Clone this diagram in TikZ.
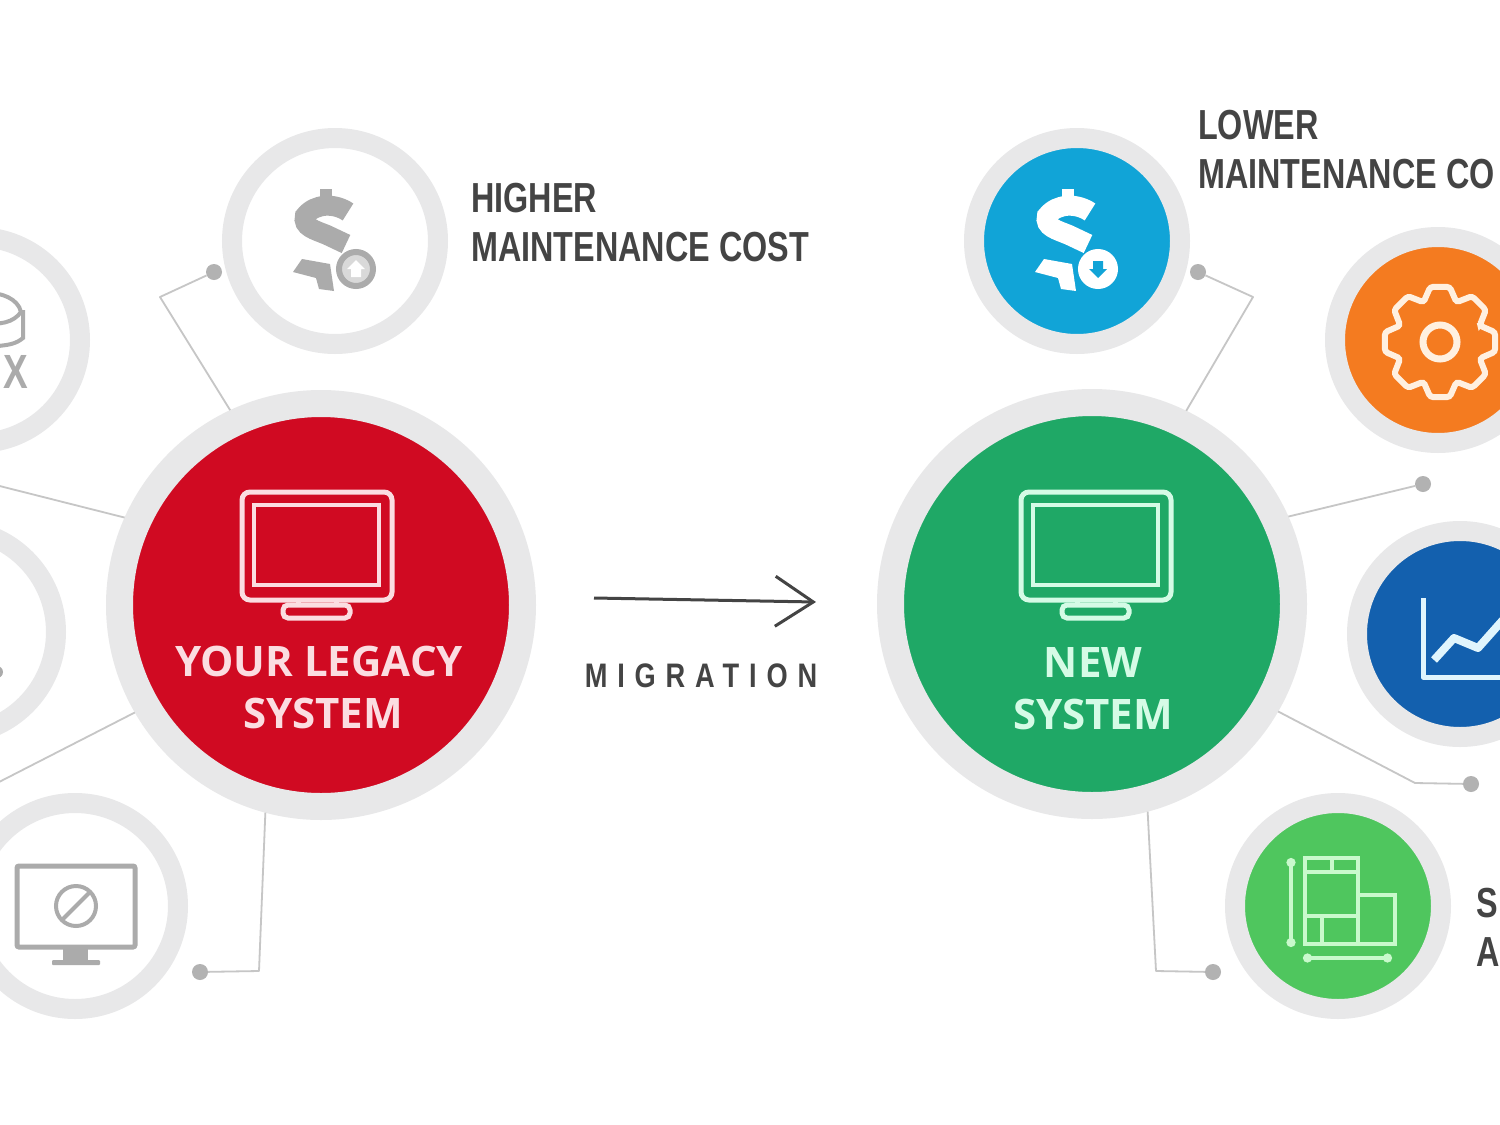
\documentclass[tikz,border=0pt]{standalone}
\usepackage{fontspec}
\usepackage{xcolor}
\usetikzlibrary{arrows.meta, positioning}
\setmainfont{Open Sans}
\newfontfamily\labelfont[FakeStretch=0.77]{Liberation Sans}
\newfontfamily\migfont[FakeStretch=0.8,LetterSpace=29]{Liberation Sans}
\definecolor{colorRing}{HTML}{E8E8E9}
\definecolor{colorLine}{HTML}{C6C6C6}
\definecolor{colorDot}{HTML}{B2B2B2}
\definecolor{colorGrey}{HTML}{ABABAB}
\definecolor{colorText}{HTML}{444444}
\definecolor{colorRed}{HTML}{D00A22}
\definecolor{colorGreen}{HTML}{1FA866}
\definecolor{colorBlue}{HTML}{11A4D7}
\definecolor{colorOrange}{HTML}{F47B20}
\definecolor{colorNavy}{HTML}{1360AE}
\definecolor{colorLime}{HTML}{4FC65E}
\definecolor{colorPink}{HTML}{FBDDE1}
\definecolor{colorMint}{HTML}{D5FBE6}
\definecolor{colorPale}{HTML}{C9F9CC}
\tikzset{
  big/.style={circle, inner sep=0pt, minimum size=403pt, draw=colorRing, line width=27pt, fill=#1},
  small/.style={circle, inner sep=0pt, minimum size=206pt, draw=colorRing, line width=20pt, fill=#1},
  link/.style={draw=colorLine, line width=1.8pt, line join=round},
  dot/.style={circle, inner sep=0pt, minimum size=16pt, fill=colorDot},
  sideLabel/.style={anchor=north west, inner sep=0pt, align=left, text=colorText, font=\labelfont\bfseries\fontsize{42}{49}\selectfont},
  bigLabel/.style={align=center, inner sep=0pt, font=\bfseries\fontsize{42}{52}\selectfont}
}
\newcommand{\drawMonitor}[2]{
  \begin{scope}[shift={#1}, draw=#2, line width=5pt]
    \draw[rounded corners=8pt] (-75,-113) rectangle (75,-5);
    \draw[line width=4pt] (-63,-100) rectangle (62,-20);
    \draw (-19,-5) -- (-19,0) (19,-5) -- (19,0);
    \draw[rounded corners=5pt] (-34,0) rectangle (33,13);
  \end{scope}
}
\newcommand{\drawDollar}[5]{
  \begin{scope}[shift={#1}]
    \draw[#2, line width=12pt] (-9,-52) -- (-9,-40);
    \draw[#2, line width=20pt] (13,-29) .. controls (0,-38) and (-20,-38) .. (-30,-25) .. controls (-33,-14) and (-20,-11) .. (-8,-6) -- (11,3);
    \fill[#2] (-42,31) -- (-33,18) -- (-5,23) -- (-1,50) -- (-16,48) -- (-19,37) -- cycle;
    \draw[#2, fill=#3, line width=6pt] (21,28) circle (17);
    \fill[#4] (21,28) ++(0,{-9*#5}) -- ++(9,{9*#5}) -- ++(-4,0) -- ++(0,{8*#5}) -- ++(-10,0) -- ++(0,{-8*#5}) -- ++(-4,0) -- cycle;
  \end{scope}
}
\begin{document}
\begin{tikzpicture}[x=1pt, y=-1pt, >=stealth]
\useasboundingbox (0,0) rectangle (1500,1125);
\clip (0,0) rectangle (1500,1125);
\fill[white] (0,0) rectangle (1500,1125);

\node[big=colorRed] (legacy) at (321,605) {};
\node[big=colorGreen] (newsys) at (1092,604) {};

\node[small=white] (costOld) at (335,241) {};
\node[small=white] (fxOld) at (-23,340) {};
\node[small=white] (midOld) at (-47,632) {};
\node[small=white] (screenOld) at (75,906) {};
\node[small=colorBlue] (costNew) at (1077,241) {};
\node[small=colorOrange] (gearNew) at (1438,340) {};
\node[small=colorNavy] (chartNew) at (1460,634) {};
\node[small=colorLime] (planNew) at (1338,906) {};

\node[dot] (dotCostOld) at (214,272) {};
\node[dot] (dotScreenOld) at (200,972) {};
\node[dot] (dotCostNew) at (1198,272) {};
\node[dot] (dotGearNew) at (1423,484) {};
\node[dot] (dotChartNew) at (1471,784) {};
\node[dot] (dotPlanNew) at (1213,972) {};
\coordinate (endFx) at (-40,476);
\coordinate (endMid) at (-40,802);

\draw[link] (legacy.115) -- (160,297) -- (dotCostOld);
\draw[link] (legacy.156) -- (endFx);
\draw[link] (legacy.210) -- (endMid);
\draw[link] (legacy.255) -- (259,971) -- (dotScreenOld);
\draw[link] (newsys.64) -- (1253,297) -- (dotCostNew);
\draw[link] (newsys.24) -- (dotGearNew);
\draw[link] (newsys.-30) -- (1415,783) -- (dotChartNew);
\draw[link] (newsys.-75) -- (1156,971) -- (dotPlanNew);

\drawMonitor{(317,605)}{colorPink}
\drawMonitor{(1096,605)}{colorMint}
\node[bigLabel, text=colorPink] (legacyText) at (319,687) {YOUR LEGACY\\\hspace*{8pt}SYSTEM};
\node[bigLabel, text=colorMint] (newText) at (1093,689) {NEW\\SYSTEM};

\drawDollar{(335,241)}{colorGrey}{colorGrey!45}{white}{1}
\drawDollar{(1077,241)}{white}{white}{colorBlue}{-1}

\draw[colorGrey, line width=4pt] (-18,322) .. controls (0,326) and (14,322) .. (21,312) .. controls (18,298) and (0,293) .. (-10,293);
\draw[colorGrey, line width=4pt] (23,310) -- (23,338) .. controls (16,344) and (8,345) .. (-2,346);
\node[anchor=base, inner sep=0pt, text=colorGrey] (fxText) at (16,388) {\labelfont\bfseries\fontsize{48}{48}\selectfont X};
\fill[colorGrey] (-3,672) circle (6);

\draw[colorGrey, line width=5pt, rounded corners=2pt] (17,866) rectangle (135,947);
\fill[colorGrey] (63,947) rectangle (88,960);
\fill[colorGrey, rounded corners=1pt] (52,960) rectangle (100,965);
\draw[colorGrey, line width=4pt] (76,906) circle (20);
\draw[colorGrey, line width=4pt] (62,920) -- (90,892);

\begin{scope}[shift={(1440,342)}]
  \draw[white!88!orange, line width=6pt, rounded corners=3pt] (-22.5:43) \foreach \a in {0,45,...,315} { -- (\a-10:56) -- (\a+10:56) -- (\a+22.5:43) } -- cycle;
  \draw[white!88!orange, line width=7pt] (0,0) circle (17);
\end{scope}

\draw[white!88!cyan, line width=5pt, line join=round] (1423,598) -- (1423,677) -- (1510,677);
\draw[white!88!cyan, line width=8pt, line join=round] (1434,660) -- (1454,638) -- (1478,648) -- (1510,612);

\begin{scope}[draw=colorPale, line width=3.5pt]
  \draw (1305,858) rectangle (1358,944);
  \draw (1358,895) rectangle (1395,944);
  \draw (1305,872) -- (1358,872) (1305,916) -- (1358,916);
  \draw (1332,858) -- (1332,872) (1322,916) -- (1322,944);
  \draw[{Circle[length=9pt]}-{Circle[length=9pt]}] (1291,858) -- (1291,947);
  \draw[{Circle[length=9pt]}-{Circle[length=9pt]}] (1303,958) -- (1392,958);
\end{scope}

\node[sideLabel] (higherText) at (471,183) {HIGHER\\MAINTENANCE COST};
\node[sideLabel] (lowerText) at (1198,110) {LOWER\\MAINTENANCE CO};
\node[sideLabel] (planText) at (1476,888) {S\\A};

\coordinate (arrowStart) at (594,598);
\coordinate (arrowEnd) at (816,602);
\draw[-{Straight Barb[length=38pt, width=50pt]}, colorText, line width=3pt] (arrowStart) -- (arrowEnd);
\node[inner sep=0pt, text=colorText] (migText) at (701,676) {\migfont\bfseries\fontsize{34}{34}\selectfont MIGRATION};
\end{tikzpicture}
\end{document}
